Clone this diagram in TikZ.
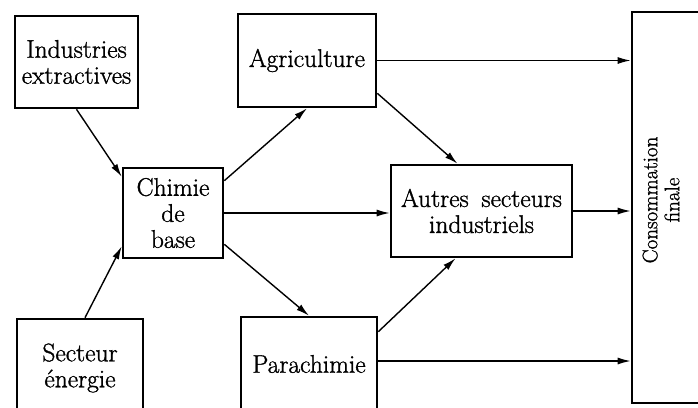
\documentclass[tikz,border=0pt]{standalone}
\usepackage{fontspec}
\setmainfont{Latin Modern Roman}[FakeBold=1.2]
\usetikzlibrary{arrows.meta,calc}
\begin{document}
\begin{tikzpicture}[x=1pt,y=-1pt,
  box/.style={draw,line width=2.6pt,inner sep=0pt,align=center,
    font=\fontsize{25.5}{26}\selectfont},
  flow/.style={line width=1.4pt,-{Latex[length=13pt,width=7pt]}}]
\useasboundingbox (0,0) rectangle (698,407);
\clip (0,0) rectangle (698,407);
\node[box,minimum width=123pt,minimum height=92pt] (ind) at (76.5,62) {Industries\\extractives};
\node[box,minimum width=100pt,minimum height=90pt] (chim) at (173,213) {Chimie\\de\\base};
\node[box,minimum width=126pt,minimum height=98pt] (sect) at (80,368) {Secteur\\énergie};
\node[box,minimum width=138pt,minimum height=93pt] (agri) at (307,60.5) {Agriculture};
\node[box,minimum width=136pt,minimum height=94pt] (para) at (309,364) {Parachimie};
\node[box,minimum width=181pt,minimum height=92pt] (autr) at (481.5,211) {Autres\hspace{0.5em}secteurs\\industriels};
\node[box,minimum width=88pt,minimum height=391pt] (cons) at (676,207.5) {};
\node[rotate=90,align=center,font=\fontsize{21}{22}\selectfont] (consT) at (661,200) {Consommation\\finale};
\draw[flow] (ind.south) -- ([yshift=-10pt]chim.north west);
\draw[flow] ([xshift=5pt]sect.north) -- ([yshift=13pt]chim.south west);
\draw[flow] ([yshift=-14pt]chim.north east) -- (agri.south);
\draw[flow] (chim.east) -- (chim.east -| autr.west);
\draw[flow] ([yshift=15pt]chim.south east) -- (para.north);
\draw[flow] (agri.east) -- (agri.east -| cons.west);
\draw[flow] ([yshift=15pt]agri.south east) -- ([xshift=-24pt]autr.north);
\draw[flow] ([yshift=-16pt]para.north east) -- ([xshift=-26pt]autr.south);
\draw[flow] ([yshift=3pt]para.east) -- ([yshift=3pt]para.east -| cons.west);
\draw[flow] (autr.east) -- (autr.east -| cons.west);
\end{tikzpicture}
\end{document}
